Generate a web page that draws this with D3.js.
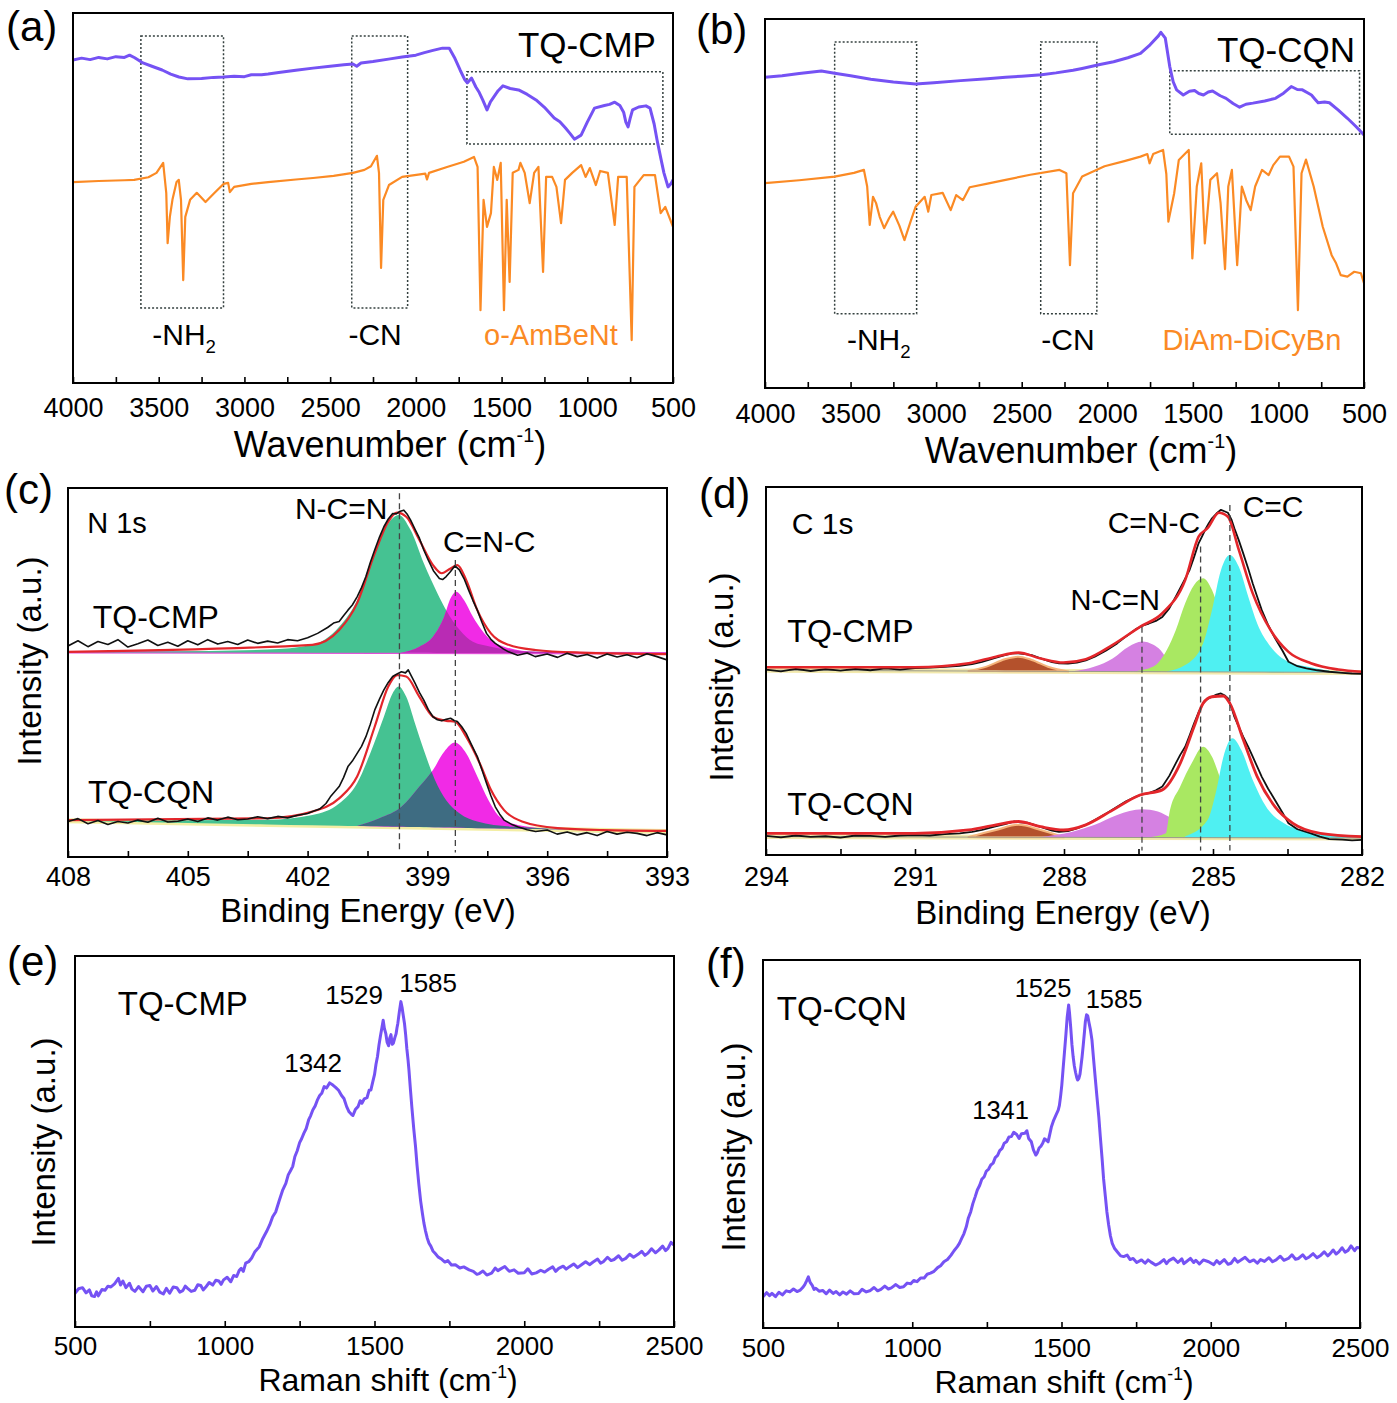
<!DOCTYPE html>
<html><head><meta charset="utf-8">
<script src="https://cdn.jsdelivr.net/npm/d3@7"></script>
<style>
body{margin:0;background:#fff;}
svg{display:block;}
</style></head><body>
<svg id="chart" width="1397" height="1403"></svg>
<script>
// ---------------- DATA ----------------
// (a) FT-IR, wavenumber (cm-1) vs transmittance (a.u., 0-100)
const irTicks = [4000,3500,3000,2500,2000,1500,1000,500];
const tqCmpIR = [[4000,87.3],[3950,87.8],[3900,87.4],[3850,88.0],[3800,87.6],[3750,88.2],[3700,88.0],[3670,88.6],[3640,87.9],[3592,86.5],[3540,85.6],[3480,84.6],[3430,83.5],[3382,82.7],[3330,82.2],[3250,82.3],[3180,82.6],[3122,82.7],[3060,82.9],[3000,82.8],[2960,83.3],[2900,83.3],[2862,83.5],[2800,83.9],[2700,84.5],[2600,85.1],[2500,85.6],[2420,86.0],[2367,86.2],[2345,85.6],[2320,86.5],[2250,86.9],[2150,87.6],[2080,88.1],[2000,88.6],[1950,89.3],[1900,89.9],[1845,90.5],[1805,90.5],[1775,88.0],[1742,84.6],[1715,82.0],[1700,81.1],[1675,82.4],[1650,80.0],[1630,78.5],[1610,76.5],[1585,73.8],[1565,76.0],[1545,77.3],[1520,79.0],[1492,80.3],[1450,79.6],[1401,79.2],[1350,78.0],[1299,76.5],[1250,74.5],[1193,71.6],[1160,70.6],[1127,68.9],[1100,67.4],[1075,65.9],[1036,67.0],[1000,70.5],[958,74.3],[900,75.0],[870,75.3],[840,75.9],[810,75.0],[788,73.2],[775,70.5],[762,69.2],[750,71.5],[736,73.8],[700,74.6],[658,74.9],[634,74.3],[610,70.0],[593,65.7],[570,60.5],[553,56.8],[529,53.0],[510,54.0],[500,54.9]];
const oAmBeNtIR = [[4000,54.3],[3850,54.6],[3700,54.8],[3643,54.9],[3560,55.6],[3513,56.8],[3474,59.5],[3456,51.4],[3448,37.8],[3435,44.9],[3420,49.5],[3396,54.3],[3383,54.9],[3370,49.5],[3357,27.8],[3345,44.9],[3317,49.5],[3278,51.4],[3227,48.9],[3174,51.4],[3122,53.8],[3095,54.1],[3085,51.6],[3060,53.0],[2960,53.8],[2862,54.3],[2700,55.0],[2600,55.4],[2480,56.0],[2367,56.8],[2300,57.6],[2262,58.6],[2227,61.4],[2215,56.8],[2203,31.1],[2190,49.5],[2157,53.5],[2080,55.7],[1945,56.6],[1935,55.0],[1923,56.8],[1818,58.4],[1720,59.8],[1661,61.1],[1640,58.4],[1623,19.7],[1605,49.5],[1585,42.2],[1562,45.9],[1545,58.4],[1525,54.9],[1505,59.5],[1486,19.7],[1470,49.5],[1453,27.3],[1435,56.8],[1401,57.6],[1390,59.5],[1365,56.8],[1336,48.6],[1310,56.8],[1285,58.4],[1258,30.0],[1240,55.7],[1205,55.7],[1180,53.0],[1153,43.2],[1130,54.9],[1088,56.8],[1036,58.9],[1010,55.7],[985,58.1],[950,53.5],[925,57.3],[880,56.8],[840,42.7],[820,55.7],[770,55.7],[741,11.6],[725,53.0],[671,56.2],[605,56.2],[572,45.9],[545,47.6],[500,42.2]];
const irBoxesA = [[3604,3122,93.8,20.3],[2374,2048,93.8,20.3],[1702,559,84.1,64.6]];

// (b) FT-IR
const tqCqnIR = [[4000,84.2],[3900,84.6],[3800,85.2],[3671,85.9],[3593,85.3],[3500,84.6],[3382,83.7],[3250,82.9],[3120,82.4],[3014,82.7],[2857,83.3],[2700,83.8],[2594,84.2],[2500,84.5],[2384,84.9],[2300,85.4],[2200,86.1],[2147,86.6],[2050,87.6],[1963,88.4],[1880,89.5],[1806,90.7],[1750,93.0],[1700,95.5],[1687,96.4],[1661,94.8],[1635,87.1],[1615,83.0],[1595,80.8],[1556,79.4],[1520,80.4],[1490,80.6],[1465,79.8],[1438,79.4],[1410,80.2],[1385,80.5],[1340,79.2],[1306,78.5],[1265,77.1],[1227,76.1],[1190,76.9],[1149,77.2],[1080,77.8],[1017,78.5],[970,79.9],[925,81.7],[890,80.9],[860,80.8],[830,80.0],[807,79.4],[785,78.2],[768,77.3],[730,77.5],[702,77.3],[650,75.3],[597,73.1],[550,71.0],[500,68.6]];
const diAmDiCyBnIR = [[4000,55.5],[3800,56.3],[3593,57.3],[3480,58.3],[3422,59.1],[3403,54.6],[3388,44.2],[3369,51.8],[3351,50.1],[3330,46.4],[3304,43.3],[3275,46.0],[3251,47.8],[3215,44.0],[3185,40.1],[3150,45.0],[3120,49.1],[3067,51.8],[3046,47.8],[3028,52.3],[2962,52.9],[2915,48.2],[2883,52.3],[2844,50.9],[2804,54.4],[2700,55.4],[2594,56.4],[2450,57.8],[2279,59.1],[2239,58.2],[2218,33.3],[2200,52.8],[2147,57.3],[2016,60.1],[1900,61.5],[1806,62.7],[1766,63.4],[1753,60.9],[1732,63.4],[1674,64.5],[1655,58.0],[1643,45.1],[1609,52.8],[1582,61.8],[1543,63.6],[1524,64.5],[1503,35.1],[1477,54.6],[1451,60.9],[1430,39.2],[1398,56.4],[1359,58.2],[1338,50.1],[1312,32.2],[1293,54.6],[1272,59.1],[1241,33.3],[1214,54.6],[1188,50.9],[1162,48.2],[1136,54.6],[1096,59.1],[1057,57.7],[1030,60.4],[991,62.7],[938,62.7],[912,60.0],[886,21.1],[865,58.2],[839,61.9],[794,54.6],[741,43.7],[689,36.0],[663,33.8],[636,30.6],[597,30.2],[557,31.5],[518,31.1],[500,28.4]];
const irBoxesB = [[3593,3114,93.8,20.1],[2389,2061,93.8,20.1],[1635,526,86.0,68.8]];

// (c) N 1s XPS, binding energy (eV) vs intensity (a.u.)
const n1sTicks = [408,405,402,399,396,393];
const n1sCmpRaw = [[408.0,57.2],[407.75,58.6],[407.5,57.0],[407.25,58.4],[407.0,57.6],[406.75,58.9],[406.5,56.9],[406.25,57.8],[406.0,58.8],[405.75,57.3],[405.5,58.2],[405.25,57.1],[405.0,58.6],[404.75,57.5],[404.5,58.9],[404.25,57.7],[404.0,58.4],[403.75,57.6],[403.5,58.8],[403.25,57.9],[403.0,58.5],[402.75,58.0],[402.5,58.9],[402.25,58.6],[402.0,59.4],[401.75,60.6],[401.5,62.2],[401.35,63.4],[401.21,63.8],[401.1,65.4],[400.99,66.9],[400.88,68.3],[400.76,70.5],[400.65,73.0],[400.54,76.0],[400.43,79.8],[400.32,83.2],[400.2,86.7],[400.09,89.5],[399.98,91.6],[399.87,93.1],[399.78,93.0],[399.70,93.6],[399.59,94.0],[399.5,92.8],[399.42,91.3],[399.3,88.6],[399.2,86.4],[399.09,83.2],[398.98,80.5],[398.85,77.6],[398.70,75.5],[398.62,75.2],[398.53,76.0],[398.42,77.4],[398.31,78.9],[398.2,77.8],[398.08,75.4],[397.97,72.4],[397.86,69.5],[397.75,66.9],[397.63,63.5],[397.52,60.6],[397.41,59.0],[397.30,57.9],[397.1,56.4],[396.97,55.6],[396.74,54.7],[396.5,55.3],[396.3,54.3],[396.0,55.0],[395.74,54.1],[395.5,55.2],[395.25,54.3],[395.0,54.9],[394.75,53.9],[394.5,55.0],[394.25,54.2],[394.0,54.8],[393.75,54.0],[393.5,55.1],[393.25,54.3],[393.0,53.4]];
const n1sCmpFit = [[408,55.6],[401.88,57.5],[401.21,61.5],[400.76,68.8],[400.32,82.3],[399.98,90.9],[399.76,93.3],[399.53,92.2],[399.2,85.9],[398.86,79.1],[398.64,76.9],[398.42,78.2],[398.25,79.1],[398.03,75.1],[397.75,66.9],[397.41,60.6],[396.97,57.5],[396.29,56.1],[395.18,55.4],[393,55.0]];
const n1sCmpBase = [[408,55.5],[393,55.2]];
const n1sCmpNCN = [[408,55.5],[403.0,56.2],[401.88,57.5],[401.21,62.4],[400.76,69.6],[400.32,82.3],[399.98,90.4],[399.72,92.7],[399.42,88.6],[399.09,79.6],[398.75,71.5],[398.53,66.9],[398.19,61.5],[397.86,58.3],[397.41,57.0],[396.29,55.6],[393,55.2]];
const n1sCmpCNC = [[399.65,55.4],[399.2,57.0],[398.86,59.7],[398.58,65.1],[398.42,70.1],[398.28,71.9],[398.08,69.6],[397.86,65.1],[397.64,61.5],[397.41,58.8],[397.08,57.0],[396.29,55.6],[393,55.2]];
const n1sCqnRaw = [[408.0,9.6],[407.75,10.4],[407.5,9.0],[407.25,9.9],[407.0,8.8],[406.75,9.6],[406.5,9.2],[406.25,10.0],[406.0,9.4],[405.75,10.5],[405.5,9.5],[405.25,9.7],[405.0,10.3],[404.75,9.6],[404.5,10.6],[404.25,10.0],[404.0,10.8],[403.75,10.1],[403.5,10.3],[403.25,10.9],[403.0,10.4],[402.75,11.0],[402.5,10.6],[402.25,11.3],[402.0,11.8],[401.88,12.3],[401.7,13.0],[401.54,14.5],[401.43,16.3],[401.21,19.1],[401.1,21.5],[400.99,24.5],[400.88,26.0],[400.76,28.1],[400.65,30.0],[400.54,32.6],[400.43,36.0],[400.32,39.8],[400.2,42.8],[400.09,45.3],[399.98,47.3],[399.87,48.9],[399.76,49.6],[399.65,50.2],[399.55,49.9],[399.48,50.7],[399.4,49.0],[399.31,47.1],[399.2,44.6],[399.09,42.5],[398.98,40.0],[398.86,38.0],[398.75,37.2],[398.64,36.9],[398.53,37.3],[398.42,37.6],[398.33,37.0],[398.25,36.7],[398.14,35.3],[398.03,33.5],[397.9,30.5],[397.75,27.2],[397.63,23.5],[397.52,20.0],[397.41,16.6],[397.30,13.6],[397.19,11.6],[397.08,10.0],[396.9,8.9],[396.74,8.2],[396.5,7.4],[396.29,6.9],[396.0,7.3],[395.75,6.2],[395.5,6.8],[395.25,6.0],[395.0,6.6],[394.75,5.8],[394.5,6.9],[394.25,6.2],[394.0,6.7],[393.75,6.4],[393.5,5.8],[393.25,6.6],[393.0,6.0]];
const n1sCqnFit = [[408,10.0],[403.0,10.5],[401.88,12.3],[401.21,15.9],[400.76,21.8],[400.32,35.3],[399.98,46.2],[399.76,49.3],[399.53,48.9],[399.2,43.4],[398.86,38.0],[398.53,36.9],[398.31,36.7],[398.03,32.6],[397.69,25.4],[397.41,18.2],[397.08,12.7],[396.63,9.6],[395.74,7.8],[394.62,7.3],[393,7.1]];
const n1sCqnBase = [[408,9.8],[393,6.9]];
const n1sCqnNCN = [[408,9.8],[403.0,10.1],[401.88,11.4],[401.21,14.5],[400.76,20.0],[400.43,28.1],[400.09,38.0],[399.87,44.4],[399.72,46.2],[399.53,43.4],[399.31,36.2],[399.09,29.0],[398.81,20.9],[398.53,15.4],[398.19,11.8],[397.75,9.6],[396.85,8.2],[393,6.9]];
const n1sCqnCNC = [[400.76,8.4],[400.2,10.5],[399.65,13.6],[399.2,19.1],[398.86,23.6],[398.58,28.5],[398.31,31.0],[398.03,28.1],[397.75,21.8],[397.47,15.4],[397.19,10.9],[396.74,8.7],[395.74,7.5],[393,6.9]];
const n1sPeakLines = [[399.7,98.6],[398.3,80.5]];

// (d) C 1s XPS
const c1sTicks = [294,291,288,285,282];
const c1sCmpRaw = [[294.0,50.4],[293.7,49.9],[293.4,50.6],[293.1,50.0],[292.8,50.5],[292.5,50.1],[292.2,50.6],[291.9,50.2],[291.6,50.7],[291.3,50.4],[291.0,50.8],[290.7,50.9],[290.4,51.1],[290.1,51.4],[289.85,51.9],[289.65,52.5],[289.4,53.5],[289.19,54.3],[289.05,54.8],[288.92,54.8],[288.78,54.6],[288.65,54.3],[288.5,53.6],[288.38,53.0],[288.24,52.4],[288.10,52.1],[287.92,52.0],[287.74,52.3],[287.56,52.9],[287.38,53.9],[287.15,55.6],[286.93,57.5],[286.75,59.4],[286.56,61.3],[286.42,62.3],[286.29,62.9],[286.15,63.6],[286.02,64.7],[285.88,67.0],[285.75,70.2],[285.61,73.8],[285.47,77.5],[285.38,81.0],[285.29,84.7],[285.22,86.6],[285.16,88.3],[285.09,90.0],[285.02,91.5],[284.93,92.8],[284.84,93.8],[284.77,93.4],[284.70,93.0],[284.63,91.2],[284.57,88.8],[284.48,85.5],[284.39,81.9],[284.29,77.8],[284.20,73.8],[284.11,70.2],[284.02,66.6],[283.89,62.5],[283.75,58.9],[283.6,55.5],[283.48,52.5],[283.3,51.3],[283.12,50.7],[282.9,50.2],[282.66,49.8],[282.4,49.5],[282.2,49.3],[282.0,49.2]];
const c1sCmpFit = [[294,51.0],[291.0,51.0],[289.92,52.1],[289.37,53.9],[288.92,55.0],[288.47,53.4],[288.01,52.3],[287.56,53.2],[287.02,57.1],[286.47,62.0],[286.02,65.7],[285.56,74.7],[285.29,86.5],[285.11,88.8],[284.88,93.0],[284.70,91.9],[284.48,82.9],[284.20,71.1],[283.84,61.1],[283.48,55.2],[283.03,52.1],[282.48,50.4],[282.0,49.8]];
const c1sCmpBase = [[294,50.2],[282,49.6]];
const c1sCmpCO = [[289.92,50.0],[289.56,51.2],[289.19,53.2],[288.92,53.9],[288.65,53.0],[288.29,51.0],[287.92,49.9]];
const c1sCmpNCN = [[287.83,49.9],[287.38,51.2],[287.02,53.4],[286.70,56.6],[286.43,58.0],[286.20,57.1],[286.06,55.7],[285.93,53.4],[285.56,51.0],[285.11,49.8]];
const c1sCmpCNC = [[286.65,49.8],[286.20,51.2],[285.93,55.7],[285.75,61.1],[285.56,68.4],[285.38,73.4],[285.20,75.2],[285.02,72.0],[284.88,66.6],[284.70,59.3],[284.48,53.9],[284.11,51.0],[283.57,49.7]];
const c1sCmpCC = [[285.93,49.9],[285.56,51.6],[285.20,57.5],[285.02,66.6],[284.84,77.4],[284.66,81.5],[284.48,78.3],[284.29,70.2],[284.11,62.9],[283.84,56.6],[283.48,52.5],[283.03,51.0],[282.48,49.8],[282.0,49.6]];
const c1sCqnRaw = [[294.0,5.2],[293.7,4.8],[293.4,5.3],[293.1,4.9],[292.8,5.1],[292.5,4.7],[292.2,5.3],[291.9,5.2],[291.6,4.9],[291.3,5.3],[291.0,5.4],[290.7,5.3],[290.4,5.7],[290.1,5.9],[289.85,6.3],[289.65,6.8],[289.4,7.7],[289.19,8.4],[289.01,9.1],[288.87,8.9],[288.74,8.8],[288.55,8.0],[288.38,7.2],[288.24,6.6],[288.10,6.3],[287.92,6.5],[287.74,7.2],[287.56,8.2],[287.38,9.5],[287.15,11.3],[286.93,13.1],[286.75,14.6],[286.56,15.8],[286.42,16.5],[286.29,16.8],[286.15,17.6],[286.02,18.6],[285.88,21.5],[285.75,24.9],[285.66,27.2],[285.56,29.4],[285.47,32.5],[285.38,35.8],[285.29,38.8],[285.20,41.2],[285.11,42.4],[285.02,43.0],[284.93,43.6],[284.84,43.9],[284.77,43.4],[284.70,42.6],[284.63,40.2],[284.57,37.6],[284.48,34.8],[284.39,32.1],[284.29,29.4],[284.20,26.7],[284.11,24.0],[284.02,21.3],[283.89,18.0],[283.75,14.9],[283.6,11.5],[283.48,8.6],[283.3,7.0],[283.03,5.9],[282.85,5.0],[282.66,4.3],[282.4,4.2],[282.2,4.0],[282.0,4.1]];
const c1sCqnFit = [[294,5.9],[291.0,5.9],[289.92,6.8],[289.37,8.2],[288.92,9.1],[288.47,7.7],[288.01,6.8],[287.56,8.2],[287.02,12.2],[286.47,16.3],[286.02,17.7],[285.66,24.9],[285.38,34.9],[285.20,41.2],[285.02,43.0],[284.79,43.2],[284.66,41.2],[284.39,31.3],[284.11,21.3],[283.75,13.1],[283.39,8.6],[282.84,5.9],[282.0,5.0]];
const c1sCqnBase = [[294,5.0],[282,4.6]];
const c1sCqnCO = [[289.92,4.9],[289.37,6.8],[288.92,8.2],[288.47,6.8],[288.01,4.9]];
const c1sCqnNCN = [[288.47,4.9],[287.83,6.3],[287.38,8.2],[286.93,10.9],[286.43,12.4],[286.11,11.8],[285.84,10.0],[285.38,7.2],[284.66,5.7],[283.75,4.8]];
const c1sCqnCNC = [[286.29,4.8],[285.95,5.9],[285.88,11.3],[285.66,18.6],[285.43,24.9],[285.20,29.4],[285.02,26.7],[284.84,20.4],[284.57,13.1],[284.29,8.6],[283.84,5.9],[283.30,4.7]];
const c1sCqnCC = [[285.56,5.1],[285.11,9.5],[284.93,17.7],[284.79,26.7],[284.61,31.7],[284.43,28.5],[284.20,20.4],[283.93,13.1],[283.57,8.6],[283.03,6.3],[282.39,5.0],[282.0,4.6]];
const c1sPeakLines = [[286.43,62.0],[285.25,83.8],[284.66,95.1]];

// (e), (f) Raman, shift (cm-1) vs intensity (a.u.)
const ramanTicks = [500,1000,1500,2000,2500];
const ramanCmp = [[500,9.1],[512,10.3],[525,10.6],[537,9.2],[548,10.0],[556,8.4],[565,8.2],[572,9.5],[578,8.4],[590,10.1],[600,9.9],[610,11.0],[620,10.8],[632,11.6],[645,13.1],[652,11.3],[660,12.4],[670,10.6],[682,11.8],[690,10.2],[700,9.6],[712,10.9],[727,9.5],[738,11.0],[750,11.2],[760,9.7],[772,10.9],[783,9.4],[795,8.9],[805,10.4],[816,9.1],[828,10.8],[840,10.6],[850,9.4],[860,9.8],[868,11.0],[876,10.4],[888,9.6],[900,9.9],[910,11.4],[920,11.2],[928,10.0],[936,10.7],[948,12.0],[960,11.3],[970,12.6],[980,12.4],[988,11.5],[996,12.7],[1008,13.4],[1020,12.2],[1030,13.9],[1040,13.6],[1048,15.2],[1055,15.8],[1062,15.0],[1070,17.2],[1080,17.6],[1090,18.6],[1100,20.2],[1115,21.6],[1125,23.5],[1140,25.8],[1150,27.5],[1160,29.7],[1170,31.0],[1182,34.1],[1193,36.8],[1204,38.7],[1212,41.0],[1220,42.2],[1227,43.3],[1234,45.9],[1242,47.5],[1250,49.7],[1257,50.8],[1264,52.2],[1272,53.5],[1280,55.8],[1287,57.0],[1294,58.5],[1302,59.6],[1310,61.3],[1317,62.4],[1324,63.0],[1332,64.8],[1340,64.4],[1350,65.8],[1361,65.2],[1370,64.6],[1380,63.8],[1390,62.4],[1398,61.6],[1407,59.4],[1415,58.0],[1422,57.4],[1428,57.0],[1436,58.6],[1445,59.4],[1452,61.0],[1458,60.3],[1466,61.5],[1475,61.8],[1482,63.8],[1488,63.9],[1494,66.0],[1500,68.0],[1505,70.8],[1510,72.9],[1515,76.0],[1520,78.5],[1525,80.8],[1529,82.7],[1533,80.5],[1538,79.0],[1542,76.8],[1547,75.8],[1551,77.9],[1555,78.8],[1559,76.2],[1563,76.5],[1568,78.0],[1572,79.0],[1575,80.6],[1578,81.9],[1583,85.0],[1588,87.7],[1592,86.2],[1595,84.5],[1600,81.9],[1604,78.8],[1608,75.0],[1612,72.0],[1615,69.3],[1620,64.0],[1625,59.0],[1631,53.5],[1637,48.6],[1642,43.6],[1648,38.5],[1654,34.0],[1660,30.6],[1665,28.0],[1670,26.0],[1676,24.0],[1682,22.6],[1688,21.8],[1695,20.5],[1703,19.8],[1712,18.9],[1722,18.4],[1735,17.5],[1745,17.9],[1757,16.7],[1770,16.8],[1785,15.9],[1798,16.2],[1816,15.4],[1830,15.0],[1842,14.2],[1850,14.4],[1862,15.1],[1875,14.0],[1891,14.5],[1903,15.9],[1912,15.2],[1920,15.6],[1935,16.3],[1950,15.0],[1966,15.4],[1980,14.5],[2000,14.6],[2012,15.7],[2025,14.3],[2040,14.6],[2055,15.3],[2068,14.8],[2080,15.5],[2095,16.2],[2105,15.0],[2115,15.8],[2130,16.4],[2140,15.6],[2150,16.2],[2165,17.0],[2178,16.0],[2190,16.7],[2205,17.6],[2218,16.8],[2230,17.5],[2245,18.3],[2255,17.2],[2264,17.6],[2278,18.8],[2290,17.9],[2300,18.2],[2315,19.2],[2327,18.0],[2339,18.5],[2352,19.6],[2365,18.8],[2380,19.6],[2392,20.4],[2403,19.3],[2413,19.9],[2425,21.1],[2438,20.0],[2450,20.8],[2462,21.8],[2472,20.6],[2480,21.2],[2490,22.8],[2500,22.1]];
const ramanCqn = [[500,8.5],[512,9.6],[522,8.8],[530,9.4],[542,8.5],[553,9.7],[565,9.0],[578,10.1],[590,9.8],[602,10.6],[614,9.9],[625,10.3],[633,11.0],[640,11.8],[646,12.8],[652,13.9],[658,12.4],[665,11.6],[671,10.5],[677,10.8],[688,10.0],[700,10.2],[712,9.3],[723,10.3],[735,9.4],[745,9.9],[757,9.0],[768,9.8],[780,9.2],[792,10.1],[805,9.3],[820,9.4],[832,10.5],[846,9.8],[860,10.2],[872,11.0],[884,10.1],[895,10.5],[908,11.4],[920,10.6],[930,10.9],[945,11.8],[958,11.0],[971,11.2],[983,12.2],[995,12.0],[1005,12.9],[1016,12.6],[1028,13.6],[1040,13.6],[1050,14.6],[1061,14.9],[1073,15.4],[1085,16.4],[1095,16.9],[1106,18.0],[1118,18.6],[1130,19.8],[1140,21.0],[1151,22.1],[1158,23.0],[1166,24.4],[1173,25.6],[1181,27.5],[1188,29.9],[1196,31.6],[1203,33.8],[1211,35.7],[1218,37.5],[1226,38.8],[1233,40.4],[1241,41.1],[1248,42.6],[1256,43.2],[1263,44.3],[1271,44.8],[1278,46.3],[1286,46.9],[1293,48.2],[1301,48.8],[1308,50.2],[1316,50.6],[1324,51.9],[1332,52.0],[1340,53.2],[1350,52.6],[1358,51.5],[1366,52.8],[1377,52.9],[1384,53.6],[1390,51.5],[1399,50.6],[1406,48.4],[1414,47.0],[1419,47.6],[1425,48.9],[1431,49.4],[1437,50.2],[1443,51.4],[1450,51.0],[1455,50.6],[1459,52.0],[1466,54.6],[1474,56.5],[1481,57.8],[1489,59.2],[1493,60.5],[1497,63.0],[1501,66.0],[1505,70.1],[1510,75.0],[1515,80.0],[1519,84.4],[1524,87.8],[1527,85.5],[1531,81.5],[1535,77.0],[1539,73.7],[1543,71.2],[1547,69.5],[1551,68.1],[1554,67.4],[1558,67.8],[1562,69.0],[1565,71.0],[1569,73.7],[1573,77.0],[1577,80.5],[1580,83.3],[1584,85.1],[1588,84.8],[1592,83.0],[1597,81.0],[1602,78.3],[1607,73.5],[1613,68.0],[1619,62.6],[1625,57.4],[1630,52.0],[1636,46.0],[1641,40.5],[1647,35.7],[1652,31.6],[1658,28.0],[1664,25.0],[1670,23.0],[1678,21.6],[1688,20.6],[1698,19.6],[1708,19.4],[1720,19.8],[1730,18.6],[1740,18.9],[1752,17.8],[1768,18.5],[1780,17.6],[1790,18.5],[1800,17.9],[1815,17.1],[1828,17.6],[1843,18.6],[1852,17.5],[1860,18.3],[1875,19.0],[1890,17.8],[1903,18.8],[1910,17.5],[1918,18.0],[1932,18.9],[1943,17.8],[1950,18.4],[1962,17.4],[1975,18.5],[1993,18.0],[2010,17.2],[2020,18.3],[2030,17.5],[2045,18.6],[2058,17.3],[2068,17.6],[2080,18.9],[2090,17.9],[2100,18.4],[2115,19.2],[2130,18.0],[2144,18.5],[2156,17.6],[2167,18.6],[2180,18.1],[2195,19.1],[2207,18.0],[2219,18.5],[2233,19.5],[2245,18.4],[2260,18.9],[2272,19.9],[2284,18.7],[2294,18.9],[2308,19.9],[2319,18.8],[2330,19.3],[2343,20.2],[2356,19.1],[2369,19.8],[2380,20.7],[2392,19.6],[2400,20.2],[2410,21.2],[2420,20.1],[2429,20.7],[2440,21.8],[2450,20.6],[2460,21.1],[2470,22.3],[2482,21.0],[2490,21.9],[2500,21.7]];

// ---------------- DRAWING ----------------
const FONT = '"Liberation Sans", Arial, Helvetica, sans-serif';
const C = {purple:'#7552f4', orange:'#fb8a24', green:'#45c292', magenta:'#f12ae6', red:'#e3262b',
  brown:'#b4512c', orchid:'#d581e2', lime:'#a9e862', cyan:'#4ff0f2', ovCmp:'#b92bb4', ovCqn:'#3e6c82'};
const svg = d3.select('#chart').style('font-family', FONT);

const layout = {
  a:{l:73,r:673,t:13,b:383},
  b:{l:765,r:1364,t:19,b:388},
  c:{l:68,r:667,t:488,b:857},
  d:{l:766,r:1362,t:487,b:855},
  e:{l:75,r:674,t:956,b:1327},
  f:{l:763,r:1360,t:960,b:1328}
};

function makePanel(key, xDomain){
  const L = layout[key];
  const g = svg.append('g');
  const x = d3.scaleLinear().domain(xDomain).range([L.l, L.r]);
  const y = d3.scaleLinear().domain([0,100]).range([L.b, L.t]);
  g.append('clipPath').attr('id','clip-'+key).append('rect')
    .attr('x',L.l).attr('y',L.t).attr('width',L.r-L.l).attr('height',L.b-L.t);
  const plot = g.append('g').attr('clip-path',`url(#clip-${key})`);
  return {g, plot, x, y, L, key};
}
function finishAxes(P, majors, step, fontSize, pad){
  const [d0,d1] = d3.extent(P.x.domain());
  const all = d3.range(d0, d1 + step/2, step);
  const axis = d3.axisBottom(P.x).tickValues(all).tickSizeInner(-6).tickSizeOuter(0).tickPadding(pad)
    .tickFormat(d => majors.some(m => Math.abs(m-d) < 1e-6) ? d3.format('d')(d) : '');
  const ag = P.g.append('g').attr('transform',`translate(0,${P.L.b})`).call(axis);
  ag.select('.domain').remove();
  ag.selectAll('line').attr('stroke','#000').attr('stroke-width',1.6);
  ag.selectAll('text').attr('fill','#000').style('font-size',fontSize+'px').style('font-family',FONT);
  P.g.append('rect').attr('x',P.L.l).attr('y',P.L.t).attr('width',P.L.r-P.L.l).attr('height',P.L.b-P.L.t)
    .attr('fill','none').attr('stroke','#000').attr('stroke-width',2);
}
function lineOf(P, curve){ return d3.line().x(d=>P.x(d[0])).y(d=>P.y(d[1])).curve(curve||d3.curveLinear); }
function baseAt(base, xv){ const [[x0,y0],[x1,y1]] = base; return y0 + (y1-y0)*(xv-x0)/(x1-x0); }
function areaOf(P, base){ return d3.area().x(d=>P.x(d[0])).y0(d=>P.y(baseAt(base,d[0]))).y1(d=>P.y(d[1])).curve(d3.curveMonotoneX); }
function drawLine(P, data, color, w, curve){
  P.plot.append('path').attr('d', lineOf(P,curve)(data)).attr('fill','none').attr('stroke',color)
    .attr('stroke-width',w).attr('stroke-linejoin','round').attr('stroke-linecap','round');
}
function label(P, txt, xv, yv, size, opts){
  opts = opts || {};
  const t = P.g.append('text').attr('x',P.x(xv)).attr('y',P.y(yv)).attr('text-anchor',opts.anchor||'middle')
    .attr('fill',opts.color||'#000').style('font-size',size+'px');
  t.append('tspan').text(txt);
  if(opts.sub){ t.append('tspan').attr('dy',8).style('font-size',(size*0.62)+'px').text(opts.sub); }
  return t;
}
function xTitle(P, main, sup, tail, cx, by, size){
  const t = P.g.append('text').attr('x',cx).attr('y',by).attr('text-anchor','middle').style('font-size',size+'px');
  t.append('tspan').text(main);
  if(sup){
    t.append('tspan').attr('dy',-size*0.42).style('font-size',(size*0.55)+'px').text(sup);
    t.append('tspan').attr('dy',size*0.42).text(tail);
  }
}
function yTitle(P, txt, bx, cy, size){
  P.g.append('text').attr('transform',`translate(${bx},${cy}) rotate(-90)`).attr('text-anchor','middle')
    .style('font-size',size+'px').text(txt);
}
function dottedBoxes(P, boxes){
  boxes.forEach(b => {
    P.plot.append('rect').attr('x',P.x(b[0])).attr('y',P.y(b[2]))
      .attr('width',P.x(b[1])-P.x(b[0])).attr('height',P.y(b[3])-P.y(b[2]))
      .attr('fill','none').attr('stroke','#34403f').attr('stroke-width',1.5).attr('stroke-dasharray','2,2');
  });
}
function dashedLines(P, lines){
  lines.forEach(l => {
    P.plot.append('line').attr('x1',P.x(l[0])).attr('x2',P.x(l[0])).attr('y1',P.y(l[1])).attr('y2',P.y(1.2))
      .attr('stroke','#444').attr('stroke-width',1.3).attr('stroke-dasharray','6,4');
  });
}

// ----- (a)
const A = makePanel('a',[4000,500]);
dottedBoxes(A, irBoxesA);
drawLine(A, oAmBeNtIR, C.orange, 2.2);
drawLine(A, tqCmpIR, C.purple, 3);
finishAxes(A, irTicks, 250, 27, 15);
label(A,'TQ-CMP',1002,88.1,35);
label(A,'-NH',3352,10.3,30,{sub:'2'});
label(A,'-CN',2238,10.3,30);
label(A,'o-AmBeNt',1212,10.3,29,{color:C.orange});
xTitle(A,'Wavenumber (cm','-1',')',390,457,36);

// ----- (b)
const B = makePanel('b',[4000,500]);
dottedBoxes(B, irBoxesB);
drawLine(B, diAmDiCyBnIR, C.orange, 2.2);
drawLine(B, tqCqnIR, C.purple, 3);
finishAxes(B, irTicks, 250, 27, 16);
label(B,'TQ-CQN',956,88.3,35);
label(B,'-NH',3335,10.3,30,{sub:'2'});
label(B,'-CN',2230,10.3,30);
label(B,'DiAm-DiCyBn',1155,10.3,29,{color:C.orange});
xTitle(B,'Wavenumber (cm','-1',')',1081,463,36);

// ----- (c)
const Cc = makePanel('c',[408,393]);
function xpsPair(P, base, comps, overlapColor, clipId){
  comps.forEach(c => {
    P.plot.append('path').attr('d',areaOf(P,base)(c.data)).attr('fill',c.color).attr('stroke','none');
  });
  if(overlapColor){
    P.g.append('clipPath').attr('id',clipId).append('path').attr('d',areaOf(P,base)(comps[0].data));
    P.plot.append('g').attr('clip-path',`url(#${clipId})`).append('path')
      .attr('d',areaOf(P,base)(comps[1].data)).attr('fill',overlapColor);
  }
}
drawLine(Cc, n1sCmpBase, '#e04fd6', 2.5);
xpsPair(Cc, n1sCmpBase, [{data:n1sCmpNCN,color:C.green},{data:n1sCmpCNC,color:C.magenta}], C.ovCmp, 'ovc1');
drawLine(Cc, n1sCqnBase, '#f3eea4', 5);
xpsPair(Cc, n1sCqnBase, [{data:n1sCqnNCN,color:C.green},{data:n1sCqnCNC,color:C.magenta}], C.ovCqn, 'ovc2');
drawLine(Cc, n1sCmpFit, C.red, 2.2, d3.curveMonotoneX);
drawLine(Cc, n1sCqnFit, C.red, 2.2, d3.curveMonotoneX);
drawLine(Cc, n1sCmpRaw, '#111', 1.6);
drawLine(Cc, n1sCqnRaw, '#111', 1.6);
dashedLines(Cc, n1sPeakLines);
finishAxes(Cc, n1sTicks, 1.5, 27, 10);
label(Cc,'N 1s',407.52,87.7,29,{anchor:'start'});
label(Cc,'N-C=N',401.16,91.5,30);
label(Cc,'C=N-C',397.45,82.7,30);
label(Cc,'TQ-CMP',405.8,62.0,32);
label(Cc,'TQ-CQN',405.92,14.5,32);
xTitle(Cc,'Binding Energy (eV)',null,null,368,922,33);
yTitle(Cc,'Intensity (a.u.)',41,661,33);

// ----- (d)
const D = makePanel('d',[294,282]);
function c1sSet(P, base, comps){
  P.plot.append('path').attr('d',lineOf(P)(base)).attr('stroke','#f2e9ad').attr('stroke-width',5).attr('fill','none');
  comps.forEach(c => {
    P.plot.append('path').attr('d',areaOf(P,base)(c.data)).attr('fill',c.color)
      .attr('stroke',c.stroke||'none').attr('stroke-width',c.stroke?2:0);
  });
  P.plot.append('path').attr('d',lineOf(P)(base)).attr('stroke','#9a9a8a').attr('stroke-width',1).attr('fill','none');
}
c1sSet(D, c1sCmpBase, [{data:c1sCmpCO,color:C.brown,stroke:'#f5b57c'},{data:c1sCmpNCN,color:C.orchid},{data:c1sCmpCNC,color:C.lime},{data:c1sCmpCC,color:C.cyan}]);
c1sSet(D, c1sCqnBase, [{data:c1sCqnCO,color:C.brown,stroke:'#f5b57c'},{data:c1sCqnNCN,color:C.orchid},{data:c1sCqnCNC,color:C.lime},{data:c1sCqnCC,color:C.cyan}]);
drawLine(D, c1sCmpRaw, '#111', 1.8);
drawLine(D, c1sCqnRaw, '#111', 1.8);
drawLine(D, c1sCmpFit, C.red, 2.6, d3.curveMonotoneX);
drawLine(D, c1sCqnFit, C.red, 2.8, d3.curveMonotoneX);
dashedLines(D, c1sPeakLines);
finishAxes(D, c1sTicks, 1.5, 27, 12);
label(D,'C 1s',293.48,87.2,30,{anchor:'start'});
label(D,'C=N-C',286.19,87.4,30);
label(D,'C=C',283.79,91.9,30);
label(D,'N-C=N',286.97,66.6,29);
label(D,'TQ-CMP',292.3,58.0,32);
label(D,'TQ-CQN',292.3,10.9,32);
xTitle(D,'Binding Energy (eV)',null,null,1063,924,33);
yTitle(D,'Intensity (a.u.)',733,677,33);

// ----- (e)
const E = makePanel('e',[500,2500]);
drawLine(E, ramanCmp, C.purple, 3);
finishAxes(E, ramanTicks, 250, 26, 10);
label(E,'TQ-CMP',860,84.1,33);
label(E,'1342',1295,68.8,26);
label(E,'1529',1432,87.1,26);
label(E,'1585',1679,90.4,26);
xTitle(E,'Raman shift (cm','-1',')',388,1391,32);
yTitle(E,'Intensity (a.u.)',55,1142,33);

// ----- (f)
const F = makePanel('f',[500,2500]);
drawLine(F, ramanCqn, C.purple, 3);
finishAxes(F, ramanTicks, 250, 26, 11);
label(F,'TQ-CQN',764,83.7,33);
label(F,'1341',1296,56.7,25.5);
label(F,'1525',1438,90.0,25.5);
label(F,'1585',1676,86.9,25.5);
xTitle(F,'Raman shift (cm','-1',')',1064,1393,32);
yTitle(F,'Intensity (a.u.)',745,1147,33);

// panel letters
[['(a)',6,41],['(b)',696,44],['(c)',4,504],['(d)',699,508],['(e)',7,976],['(f)',706,978]].forEach(p => {
  svg.append('text').attr('x',p[1]).attr('y',p[2]).style('font-size','42px').text(p[0]);
});
</script>
</body></html>
